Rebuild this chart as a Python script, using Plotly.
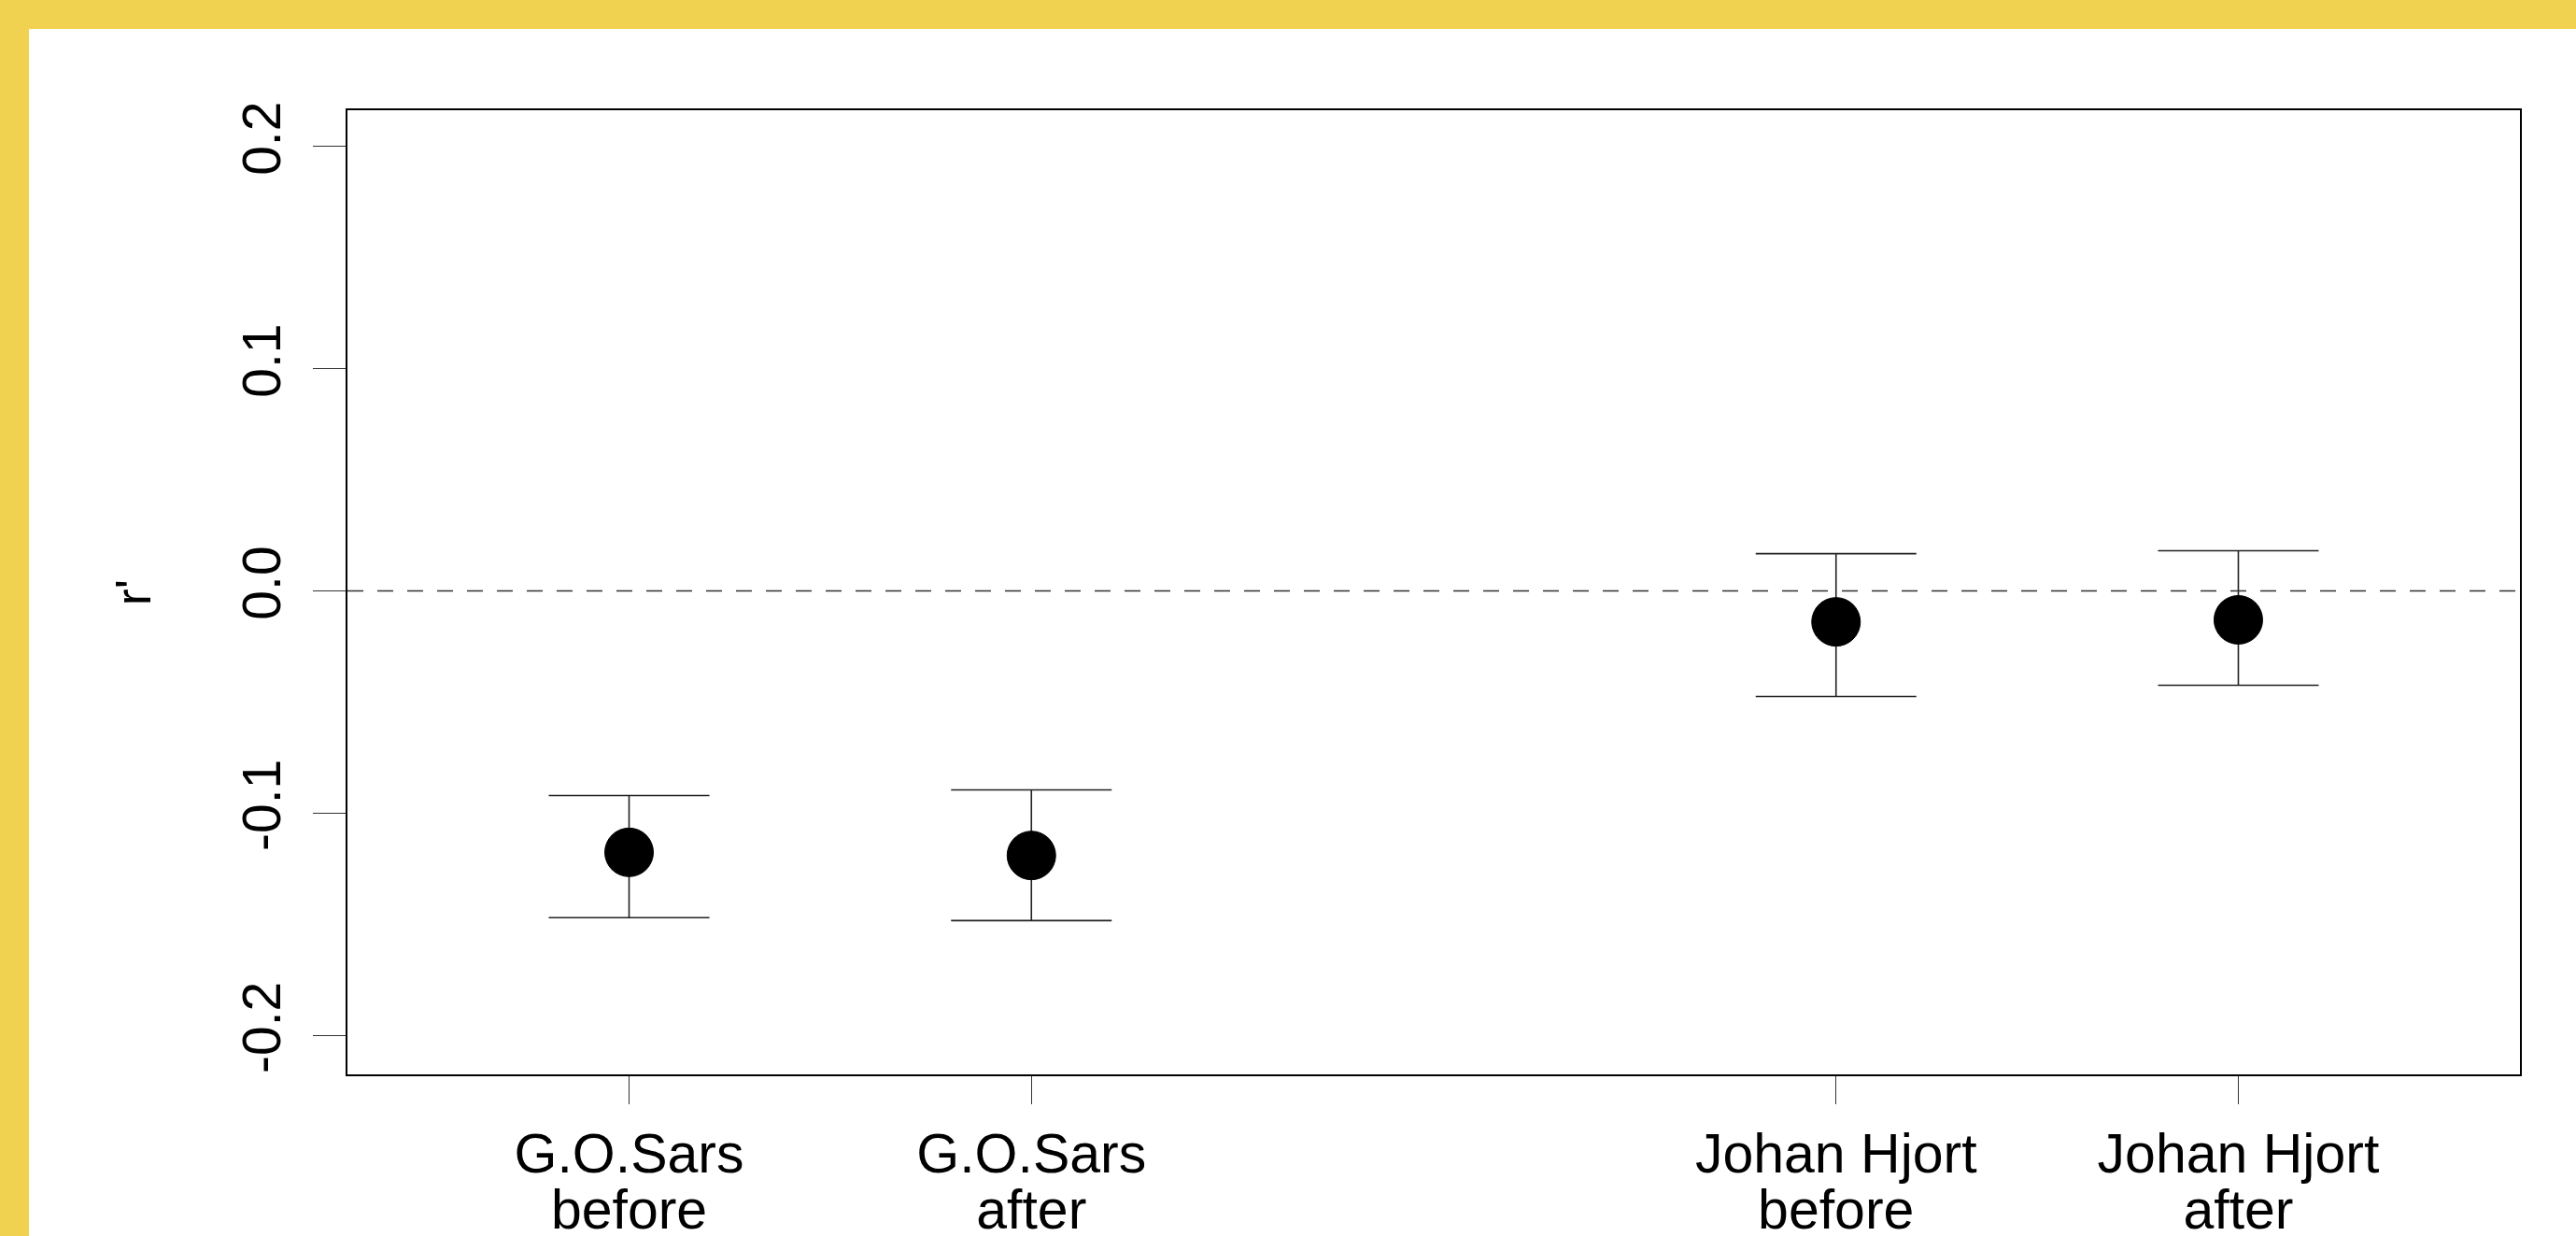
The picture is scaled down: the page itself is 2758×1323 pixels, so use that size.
import plotly.graph_objects as go

# ---- data ----
categories = ["G.O.Sars<br>before", "G.O.Sars<br>after", "Johan Hjort<br>before", "Johan Hjort<br>after"]
x_pos = [1, 2, 4, 5]
r_prime = [-0.1176, -0.1190, -0.0139, -0.0130]
ci_low = [-0.1470, -0.1483, -0.0475, -0.0424]
ci_high = [-0.0920, -0.0895, 0.0168, 0.0181]
y_ticks = [-0.2, -0.1, 0.0, 0.1, 0.2]
y_tick_labels = ["-0.2", "-0.1", "0.0", "0.1", "0.2"]

err_plus = [h - v for h, v in zip(ci_high, r_prime)]
err_minus = [v - l for v, l in zip(r_prime, ci_low)]

FONT = "Liberation Sans, Arial, Helvetica, sans-serif"
W, H = 2758, 1323
L, R, T, B = 372, 60, 118, 173
pw, ph = W - L - R, H - T - B

# larger glyphs, tighter line spacing (spacing follows the base tick font size)
x_tick_text = ["<br>".join(f"<span style='font-size:59px'>{part}</span>" for part in c.split("<br>"))
               for c in categories]

fig = go.Figure()
fig.add_trace(go.Scatter(
    x=x_pos, y=r_prime, mode="markers",
    marker=dict(symbol="circle", size=52, color="black",
                line=dict(color="black", width=1)),
    error_y=dict(type="data", symmetric=False, array=err_plus, arrayminus=err_minus,
                 color="#222222", thickness=1.6, width=86),
    showlegend=False, hoverinfo="skip",
))

# yellow frame (white page inset)
fig.add_shape(type="rect", xref="paper", yref="paper", layer="below",
              x0=(31 - L) / pw, x1=(W - L) / pw + 0.01,
              y0=-(H - (T + ph)) / ph - 0.01, y1=(T + ph - 31) / ph,
              fillcolor="white", line=dict(width=0))
# dashed zero line
fig.add_shape(type="line", xref="paper", yref="y", x0=0, x1=1, y0=0, y1=0,
              line=dict(color="#333333", width=1.6, dash="17px,15px"))

fig.update_layout(
    width=W, height=H,
    margin=dict(l=L, r=R, t=T, b=B, autoexpand=False),
    paper_bgcolor="#F1D250", plot_bgcolor="white",
    font=dict(family=FONT, color="black"),
)
fig.update_xaxes(
    range=[0.3, 5.7], tickvals=x_pos, ticktext=x_tick_text,
    showgrid=False, zeroline=False, showline=True, mirror=True,
    linecolor="black", linewidth=1.5,
    ticks="outside", ticklen=30, tickwidth=1.2, tickcolor="#333333",
    tickfont=dict(size=46, family=FONT, color="black"), ticklabelstandoff=18,
)
fig.update_yaxes(
    range=[-0.2175, 0.2163], tickvals=y_ticks, ticktext=y_tick_labels,
    showgrid=False, zeroline=False, showline=True, mirror=True,
    linecolor="black", linewidth=1.5,
    ticks="outside", ticklen=35, tickwidth=1.2, tickcolor="#333333",
    tickangle=-90, tickfont=dict(size=57, family=FONT, color="black"),
    ticklabelstandoff=12,
    title=dict(text="r'", font=dict(size=54, family=FONT, color="black"), standoff=70),
)

fig.write_html("out.html")
